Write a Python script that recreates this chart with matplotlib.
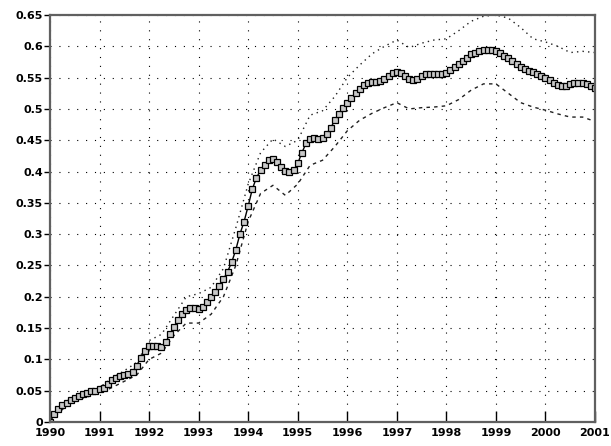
import numpy as np
import matplotlib
matplotlib.use('Agg')
import matplotlib.pyplot as plt

# monthly centre series, Jan 1990 .. Jan 2001
start_year = 1990
centre = [0.0, 0.012, 0.021, 0.027, 0.031, 0.035, 0.039, 0.042, 0.045, 0.047, 0.049, 0.05,
          0.052, 0.055, 0.06, 0.067, 0.071, 0.074, 0.075, 0.077, 0.08, 0.09, 0.103, 0.113,
          0.121, 0.122, 0.121, 0.12, 0.127, 0.14, 0.152, 0.163, 0.172, 0.179, 0.182, 0.182,
          0.18, 0.183, 0.192, 0.2, 0.208, 0.217, 0.228, 0.24, 0.255, 0.275, 0.3, 0.32,
          0.345, 0.372, 0.39, 0.402, 0.41, 0.418, 0.42, 0.415, 0.408, 0.401, 0.4, 0.402,
          0.413, 0.43, 0.445, 0.452, 0.453, 0.452, 0.453, 0.46, 0.47, 0.482, 0.492, 0.502,
          0.51, 0.518, 0.525, 0.532, 0.538, 0.542, 0.543, 0.543, 0.544, 0.548, 0.553, 0.557,
          0.559, 0.557, 0.552, 0.547, 0.546, 0.548, 0.553, 0.555, 0.556, 0.556, 0.555, 0.555,
          0.557, 0.562, 0.567, 0.572, 0.577, 0.582, 0.587, 0.59, 0.592, 0.594, 0.594, 0.594,
          0.593, 0.59, 0.585, 0.581, 0.577, 0.572, 0.567, 0.563, 0.561, 0.559, 0.556, 0.552,
          0.549, 0.546, 0.542, 0.539, 0.537, 0.537, 0.54, 0.542, 0.542, 0.542, 0.54, 0.537,
          0.534]

# quarterly bands
upper = [0.0, 0.03, 0.04, 0.048, 0.055, 0.07, 0.082, 0.095,
         0.13, 0.14, 0.17, 0.2, 0.205, 0.215, 0.245, 0.31,
         0.38, 0.43, 0.452, 0.44, 0.45, 0.49, 0.497, 0.52,
         0.55, 0.57, 0.588, 0.6, 0.61, 0.598, 0.605, 0.61,
         0.612, 0.625, 0.64, 0.648, 0.65, 0.645, 0.63, 0.612,
         0.607, 0.6, 0.59, 0.592, 0.59]
lower = [0.0, 0.02, 0.033, 0.04, 0.046, 0.055, 0.065, 0.075,
         0.1, 0.11, 0.138, 0.158, 0.158, 0.172, 0.2, 0.25,
         0.32, 0.365, 0.378, 0.362, 0.38, 0.41, 0.418, 0.44,
         0.465, 0.482, 0.493, 0.502, 0.51, 0.5, 0.502, 0.503,
         0.505, 0.515, 0.53, 0.54, 0.54, 0.525, 0.51, 0.503,
         0.498, 0.492, 0.487, 0.487, 0.48]

x_ticks = list(range(1990, 2002))
y_ticks = [0, 0.05, 0.1, 0.15, 0.2, 0.25, 0.3, 0.35, 0.4, 0.45, 0.5, 0.55, 0.6, 0.65]
y_labels = ['0', '0.05', '0.1', '0.15', '0.2', '0.25', '0.3', '0.35', '0.4',
            '0.45', '0.5', '0.55', '0.6', '0.65']

t_month = start_year + np.arange(len(centre)) / 12.0
t_quarter = start_year + np.arange(len(upper)) / 4.0

fig = plt.figure(figsize=(6.11, 4.46), dpi=100)
ax = fig.add_axes([50/611, 24/446, 545/611, 407/446])

ax.plot(t_quarter, upper, color='#202020', lw=1, ls=(0, (1, 3)))
ax.plot(t_quarter, lower, color='#202020', lw=1, ls=(0, (2.5, 3)))
ax.plot(t_month, centre, color='black', lw=1, marker='s', ms=5,
        mfc='#c8c8c8', mec='black', mew=0.9)

ax.set_xlim(1990, 2001)
ax.set_ylim(0, 0.65)
ax.set_xticks(x_ticks)
ax.set_xticklabels([str(v) for v in x_ticks])
ax.set_yticks(y_ticks)
ax.set_yticklabels(y_labels)
ax.grid(True, color='black', lw=0.8, ls=(0, (1, 7)))
ax.tick_params(axis='x', direction='in', length=8, width=1, pad=4)
ax.tick_params(axis='y', direction='out', length=4, width=1, pad=1)
for lab in ax.get_xticklabels() + ax.get_yticklabels():
    lab.set_fontweight('bold')
    lab.set_fontsize(8)
for s in ax.spines.values():
    s.set_color('#606060')
    s.set_linewidth(1.6)

plt.savefig('out.png', dpi=100)
